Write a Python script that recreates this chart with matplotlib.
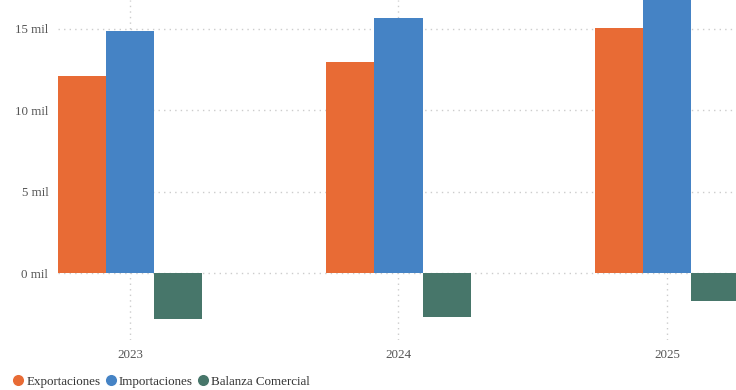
import matplotlib.pyplot as plt
import numpy as np
from matplotlib.lines import Line2D
from matplotlib.ticker import FuncFormatter

years = ["2023", "2024", "2025"]
exportaciones = [12.1, 12.97, 15.05]
importaciones = [14.87, 15.65, 16.77]
balanza = [-2.8, -2.7, -1.7]

series_names = ["Exportaciones", "Importaciones", "Balanza Comercial"]
colors = ["#E86B35", "#4583C5", "#47766A"]

plt.rcParams["font.family"] = ["Liberation Serif", "DejaVu Serif"]

fig = plt.figure(figsize=(7.36, 3.9), dpi=100)
ax = fig.add_axes([58 / 736, 50 / 390, 1 - 58 / 736, 340 / 390])

x = np.arange(len(years))
w = 0.179
for i, (vals, col) in enumerate(zip([exportaciones, importaciones, balanza], colors)):
    ax.bar(x + (i - 1) * w, vals, width=w, color=col, zorder=3)

ax.set_xlim(-0.268, 2.257)
ax.set_ylim(-4.1, 16.78)
ax.set_yticks([0, 5, 10, 15])
ax.yaxis.set_major_formatter(FuncFormatter(lambda v, p: f"{int(v)} mil"))
ax.set_xticks(x)
ax.set_xticklabels(years)

ax.grid(True, axis="both", color="#cccccc", linestyle=(0, (1, 3)), linewidth=1, zorder=0)
for s in ax.spines.values():
    s.set_visible(False)
ax.tick_params(axis="both", length=0, labelsize=9.4, colors="#555555")
ax.tick_params(axis="y", pad=7)
ax.tick_params(axis="x", pad=6.5)

handles = [Line2D([0], [0], marker="o", color="w", markerfacecolor=c, markersize=9)
           for c in colors]
fig.legend(handles, series_names, loc="lower left", bbox_to_anchor=(0.0, -0.025),
           ncol=3, frameon=False, fontsize=9.4, handletextpad=0.1, columnspacing=0.3,
           handlelength=1.0, labelcolor="#333333")

fig.savefig("out.png", dpi=100)
